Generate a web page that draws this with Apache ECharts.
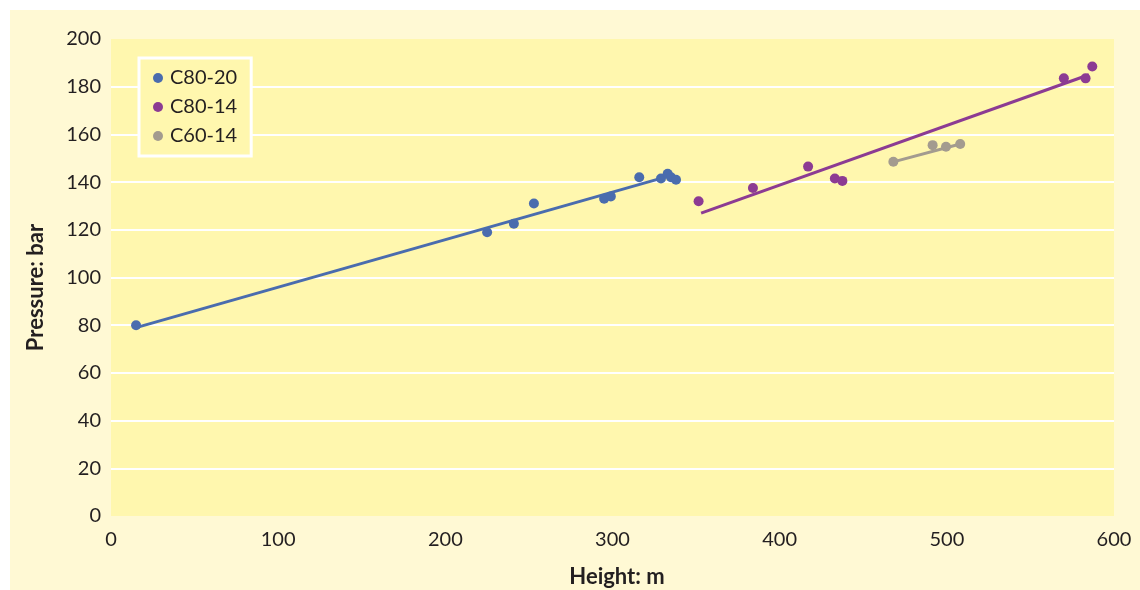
<!DOCTYPE html>
<html>
<head>
<meta charset="utf-8">
<style>
  html, body { margin: 0; padding: 0; background: #ffffff; }
  #chart { width: 1140px; height: 590px; }
</style>
<script src="https://cdn.jsdelivr.net/npm/echarts@6/dist/echarts.min.js"></script>
</head>
<body>
<div id="chart"></div>
<script>
// Measured points: [height m, pressure bar]
const c8020Points = [[15, 80], [225, 119], [241, 122.5], [253, 131], [295, 133], [299, 134],
  [316, 142], [329, 141.5], [333, 143.5], [335, 142], [338, 141]];
const c8014Points = [[351.5, 132], [384, 137.5], [417, 146.5], [433, 141.5], [437.5, 140.5],
  [570, 183.5], [583, 183.5], [587, 188.5]];
const c6014Points = [[468, 148.5], [491.5, 155.5], [499.5, 154.8], [508, 156]];

// Fitted trend lines, start and end points
const c8020Trend = [[15, 79], [331, 142]];
const c8014Trend = [[353, 127], [585, 185]];
const c6014Trend = [[468, 148.5], [508, 156]];

const seriesNames = ['C80-20', 'C80-14', 'C60-14'];
const seriesColors = ['#4a6cae', '#8c3b93', '#a39b8f'];

const xTicks = { min: 0, max: 600, interval: 100 };
const yTicks = { min: 0, max: 200, interval: 20 };

const FONT = 'Lato';
const INK = '#231f20';

const chart = echarts.init(document.getElementById('chart'), null, { renderer: 'canvas' });

const pointSets = [c8020Points, c8014Points, c6014Points];
const trendSets = [c8020Trend, c8014Trend, c6014Trend];

const series = [];
trendSets.forEach((t, i) => {
  series.push({
    name: seriesNames[i] + ' trend',
    type: 'line',
    data: t,
    showSymbol: false,
    silent: true,
    lineStyle: { color: seriesColors[i], width: 3 },
    z: 2
  });
});
pointSets.forEach((p, i) => {
  series.push({
    name: seriesNames[i],
    type: 'scatter',
    data: p,
    symbol: 'circle',
    symbolSize: 10,
    itemStyle: { color: seriesColors[i], opacity: 1 },
    z: 3
  });
});

chart.setOption({
  animation: false,
  backgroundColor: '#ffffff',
  graphic: [{
    type: 'rect',
    shape: { x: 10, y: 10, width: 1130, height: 580 },
    style: { fill: '#fff9d4' },
    z: -10
  }],
  grid: {
    left: 111, right: 26, top: 39, bottom: 74,
    outerBoundsMode: 'none',
    containLabel: false,
    show: true,
    backgroundColor: '#fff7ae',
    borderWidth: 0
  },
  legend: {
    data: seriesNames,
    orient: 'vertical',
    left: 139, top: 58,
    padding: [10, 14, 10, 14],
    itemGap: 9,
    itemWidth: 10, itemHeight: 10,
    icon: 'circle',
    backgroundColor: '#fff7ae',
    borderColor: '#ffffff',
    borderWidth: 3,
    textStyle: { fontFamily: FONT, fontSize: 20, color: INK, padding: [0, 0, 0, 2] }
  },
  xAxis: {
    type: 'value',
    min: xTicks.min, max: xTicks.max, interval: xTicks.interval,
    name: 'Height: m',
    nameLocation: 'middle',
    nameGap: 50,
    nameTextStyle: { fontFamily: FONT, fontSize: 22, fontWeight: 'bold', color: INK, padding: [0, 0, 0, 9] },
    axisLine: { show: false },
    axisTick: { show: false },
    splitLine: { show: false },
    axisLabel: { fontFamily: FONT, fontSize: 20, color: INK, margin: 14 }
  },
  yAxis: {
    type: 'value',
    min: yTicks.min, max: yTicks.max, interval: yTicks.interval,
    name: 'Pressure: bar',
    nameLocation: 'middle',
    nameGap: 64,
    nameTextStyle: { fontFamily: FONT, fontSize: 22, fontWeight: 'bold', color: INK, padding: [0, 20, 0, 0] },
    axisLine: { show: false },
    axisTick: { show: false },
    splitLine: { show: true, showMinLine: false, showMaxLine: false, lineStyle: { color: '#ffffff', width: 2 } },
    axisLabel: { fontFamily: FONT, fontSize: 20, color: INK, margin: 10 }
  },
  series: series
});
</script>
</body>
</html>
